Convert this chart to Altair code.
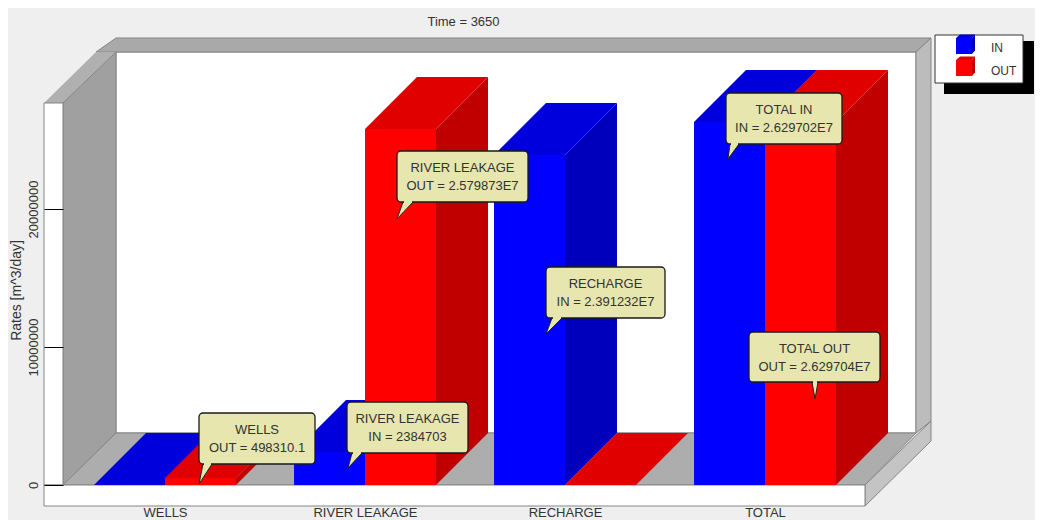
import altair as alt
import pandas as pd

# ---- chart values ----
categories = ["WELLS", "RIVER LEAKAGE", "RECHARGE", "TOTAL"]
in_values = [0, 2384703, 23912320, 26297020]
out_values = [498310.1, 25798730, 0, 26297040]
y_ticks = [0, 10000000, 20000000]
title_text = "Time = 3650"
y_title = "Rates [m^3/day]"
legend_labels = ["IN", "OUT"]
callout_heads = ["WELLS", "RIVER LEAKAGE", "RIVER LEAKAGE", "RECHARGE", "TOTAL IN", "TOTAL OUT"]
callout_texts = ["OUT = 498310.1", "OUT = 2.579873E7", "IN = 2384703", "IN = 2.391232E7",
                 "IN = 2.629702E7", "OUT = 2.629704E7"]

# ---- layout (page pixels -> scale units) ----
W, H, LEFT, TOP = 1027, 512, 8, 8
PX_PER_GROUP, X_ORIGIN, Y_ORIGIN, PX_PER_UNIT = 200, 165, 485, 13.8e-6
def ux(p): return (p - X_ORIGIN) / PX_PER_GROUP
def uy(p): return (Y_ORIGIN - p) / PX_PER_UNIT
x_scale = alt.Scale(domain=[ux(LEFT), ux(LEFT + W)], nice=False, zero=False)
y_scale = alt.Scale(domain=[uy(TOP + H), uy(TOP)], nice=False, zero=False)
BAR_W = 71 / PX_PER_GROUP
DEPTH_X = 52 / PX_PER_GROUP
DEPTH_Y = 52 / PX_PER_UNIT

BLUE = ("#0000ff", "#0000dc", "#0000bc")
RED = ("#ff0000", "#e00000", "#c00000")
EDGE = "#858585"
CREAM = "#e6e6ae"
FONT = "Liberation Sans"

x_axis = alt.Axis(values=[0, 1, 2, 3], labelExpr="['WELLS','RIVER LEAKAGE','RECHARGE','TOTAL'][datum.value]",
                  domain=False, ticks=False, grid=False, title=None, offset=-14, labelPadding=0,
                  labelFont=FONT, labelFontSize=13, labelColor="#333333", labelOverlap=False,
                  labelFlush=False, zindex=1)
y_axis = alt.Axis(values=y_ticks, domain=False, grid=False, tickSize=19, tickColor="#000000", tickWidth=1,
                  offset=-55, labelAngle=-90, labelAlign="center", labelBaseline="bottom", labelPadding=4,
                  labelFont=FONT, labelFontSize=13, labelColor="#333333", format="d", labelOverlap=False,
                  labelFlush=False, title=y_title, titleFont=FONT, titleFontSize=14, titleFontWeight="normal",
                  titleColor="#333333", titleAngle=-90, titleX=-40, titleY=282, titleAlign="center",
                  titleBaseline="bottom", zindex=1)

X = lambda **k: alt.X("x:Q", scale=x_scale, axis=x_axis, **k)
Y = lambda **k: alt.Y("y:Q", scale=y_scale, axis=y_axis, **k)

def rect(x0, x1, y0, y1, fill, stroke=None, **kw):
    d = pd.DataFrame({"x": [ux(x0)], "x2": [ux(x1)], "y": [uy(y0)], "y2": [uy(y1)]})
    opts = dict(fill=fill, **kw)
    if stroke:
        opts["stroke"] = stroke
    return alt.Chart(d).mark_rect(**opts).encode(X(), x2="x2:Q", y=Y(), y2="y2:Q")

def hquad(y0, y1, a0, a1, b0, b1, fill, stroke=None, sw=1):
    """Edges a->b at pixel row y0 and y1."""
    d = pd.DataFrame({"y": [uy(y0), uy(y1)], "x": [ux(a0), ux(a1)], "x2": [ux(b0), ux(b1)]})
    opts = dict(fill=fill, orient="horizontal")
    if stroke:
        opts.update(stroke=stroke, strokeWidth=sw)
    return alt.Chart(d).mark_area(**opts).encode(X(), x2="x2:Q", y=Y())

def vquad(x0, x1, a0, a1, b0, b1, fill, stroke=None, sw=1):
    d = pd.DataFrame({"x": [ux(x0), ux(x1)], "y": [uy(a0), uy(a1)], "y2": [uy(b0), uy(b1)]})
    opts = dict(fill=fill, orient="vertical")
    if stroke:
        opts.update(stroke=stroke, strokeWidth=sw)
    return alt.Chart(d).mark_area(**opts).encode(X(), y=Y(), y2="y2:Q")

# ---- frame ----
frame = [
    rect(116, 916, 52, 433, "#ffffff", EDGE),
    hquad(52, 38, 96, 116, 916, 931, "#a9a9a9", EDGE),
    hquad(103, 52, 44, 96, 63, 116, "#b0b0b0"),
    vquad(63, 116, 485, 433, 103, 52, "#a0a0a0", EDGE),
    vquad(916, 931, 433, 421, 52, 38, "#bcbcbc", EDGE),
    hquad(485, 433, 63, 116, 865, 916, "#adadad", EDGE),
    vquad(865, 931, 506, 441, 485, 421, "#c4c4c4", EDGE),
    rect(44, 63, 103, 485, "#ffffff", EDGE),
    rect(44, 865, 485, 506, "#ffffff", EDGE),
]

# ---- bars ----
rows = []
for i, cat in enumerate(categories):
    rows.append(dict(cat=cat, series="IN", x0=i - BAR_W, x1=float(i), v=in_values[i]))
    rows.append(dict(cat=cat, series="OUT", x0=float(i), x1=i + BAR_W, v=out_values[i]))
bars = pd.DataFrame(rows)
bars["id"] = bars["cat"] + bars["series"]

tops, sides = [], []
for r in bars.itertuples():
    tops += [dict(id=r.id, series=r.series, y=r.v, x=r.x0, x2=r.x1),
             dict(id=r.id, series=r.series, y=r.v + DEPTH_Y, x=r.x0 + DEPTH_X, x2=r.x1 + DEPTH_X)]
    sides += [dict(id=r.id, series=r.series, x=r.x1, y=0, y2=r.v),
              dict(id=r.id, series=r.series, x=r.x1 + DEPTH_X, y=DEPTH_Y, y2=r.v + DEPTH_Y)]
tops = pd.DataFrame(tops)
sides = pd.DataFrame(sides)
bars_front = bars.rename(columns={"x0": "x", "x1": "x2", "v": "y"})
bars_front["y0"] = 0

bar_layers = []
for name, cols in (("IN", BLUE), ("OUT", RED)):
    d = sides[sides.series == name]
    bar_layers.append(alt.Chart(d).mark_area(fill=cols[2], orient="vertical").encode(
        X(), y=Y(), y2="y2:Q", detail="id:N"))
for name, cols in (("IN", BLUE), ("OUT", RED)):
    d = tops[tops.series == name]
    bar_layers.append(alt.Chart(d).mark_area(fill=cols[1], orient="horizontal").encode(
        X(), x2="x2:Q", y=Y(), detail="id:N"))
for name, cols in (("IN", BLUE), ("OUT", RED)):
    d = bars_front[bars_front.series == name]
    bar_layers.append(alt.Chart(d).mark_rect(fill=cols[0]).encode(
        X(), x2="x2:Q", y=Y(), y2="y0:Q"))

# ---- callouts: body left, right, top, bottom; tail base left, right; tip x, y ----
callout_boxes = [
    (199, 315, 413, 464, 203, 212, 199, 484),
    (397, 528, 151, 202, 403, 413, 397, 219),
    (347, 468, 402, 453, 352, 362, 348, 468),
    (546, 665, 267, 318, 552, 562, 546, 334),
    (726, 842, 93, 144, 730, 739, 728, 159),
    (749, 880, 332, 382, 812, 818, 815, 399),
]
body, tail, seam, txt = [], [], [], []
for k, (l, r, t, b, bl, br, tx, ty) in enumerate(callout_boxes):
    body.append(dict(x=ux(l), x2=ux(r), y=uy(t), y2=uy(b)))
    tail.append(dict(id=k, y=uy(b), x=ux(bl), x2=ux(br)))
    tail.append(dict(id=k, y=uy(ty), x=ux(tx), x2=ux(tx)))
    seam.append(dict(x=ux(bl + 1), x2=ux(br - 1), y=uy(b)))
    txt.append(dict(x=ux((l + r) / 2), y=uy(t + 17), t=callout_heads[k]))
    txt.append(dict(x=ux((l + r) / 2), y=uy(t + 35), t=callout_texts[k]))
callouts = [
    alt.Chart(pd.DataFrame(tail)).mark_area(fill=CREAM, stroke="#222222", strokeWidth=1, orient="horizontal").encode(
        X(), x2="x2:Q", y=Y(), detail="id:N"),
    alt.Chart(pd.DataFrame(body)).mark_rect(fill=CREAM, stroke="#1a1a1a", strokeWidth=1.3, cornerRadius=4).encode(
        X(), x2="x2:Q", y=Y(), y2="y2:Q"),
    alt.Chart(pd.DataFrame(seam)).mark_rule(color=CREAM, strokeWidth=2).encode(X(), x2="x2:Q", y=Y()),
    alt.Chart(pd.DataFrame(txt)).mark_text(font=FONT, fontSize=13, color="#333333", align="center", baseline="middle").encode(
        X(), y=Y(), text="t:N"),
]

# ---- legend ----
legend = [
    rect(944, 1034, 41, 94, "#000000"),
    rect(935, 1023, 35, 83, "#ffffff", "#333333"),
]
for name, cols, top in (("IN", BLUE, 38), ("OUT", RED, 60)):
    legend += [
        rect(956, 972, top, top + 16, cols[0]),
        hquad(top, top - 3.5, 956, 960, 972, 975, cols[1]),
        vquad(972, 975, top + 16, top + 12.5, top, top - 3.5, cols[2]),
    ]
legend_text = pd.DataFrame({"x": [ux(991), ux(991)], "y": [uy(48), uy(71)], "t": legend_labels})
legend.append(alt.Chart(legend_text).mark_text(font=FONT, fontSize=12, color="#333333", align="left", baseline="middle").encode(
    X(), y=Y(), text="t:N"))

chart = alt.layer(*frame, *bar_layers, *callouts, *legend).properties(
    width=W, height=H, padding=0, autosize=alt.AutoSizeParams(type="none"),
    background="#efefef",
    title=alt.TitleParams(text=title_text, anchor="middle", dx=-58, dy=25, font=FONT, fontSize=13,
                          fontWeight="normal", color="#333333"),
).configure_view(stroke=None)

chart.save("out.html", embed_options={"renderer": "svg", "actions": False})
